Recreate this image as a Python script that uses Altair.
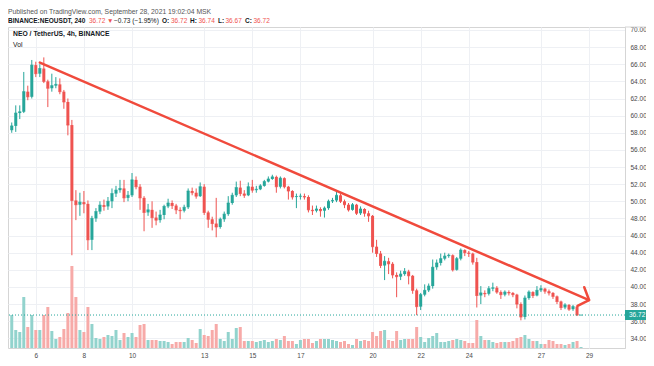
import altair as alt
import pandas as pd

# ---------------- data ----------------
start_day = 5.0            # first 4h candle: 5 Sep 2021 00:00
first_open = 58.3
close_prices = [
    58.8, 60.3, 60.45, 62.8, 62.2, 65.9, 64.9, 65.5, 64.0, 63.2, 63.5, 63.65,
    62.8, 61.6, 58.9, 50.1, 49.6, 49.9, 49.7, 45.5, 48.0, 48.8, 49.55, 49.4,
    50.0, 50.9, 51.3, 51.5, 50.4, 50.7, 52.5, 51.7, 50.4, 48.7, 49.0, 48.1,
    47.8, 48.4, 49.4, 49.8, 49.5, 49.0, 48.9, 49.3, 51.2, 51.0, 50.6, 51.7,
    48.7, 47.9, 47.4, 47.0, 47.9, 48.5, 49.8, 50.7, 51.6, 50.9, 50.7, 51.7,
    51.3, 51.4, 51.8, 52.3, 52.6, 52.85, 51.7, 52.7, 51.7, 51.2, 50.5, 50.55,
    50.6, 50.5, 49.0, 48.9, 49.1, 48.9, 49.2, 50.0, 50.1, 50.7, 50.0, 49.6,
    49.0, 49.6, 48.6, 49.1, 48.6, 48.3, 44.7, 43.9, 42.5, 43.0, 42.7, 41.4,
    41.2, 41.5, 41.8, 41.3, 39.6, 37.7, 39.1, 39.6, 40.1, 42.3, 42.8, 43.3,
    43.6, 43.7, 42.0, 43.3, 44.3, 44.0, 43.9, 42.9, 39.0, 39.3, 39.2, 39.8,
    39.9, 39.4, 39.1, 39.4, 39.3, 39.1, 38.0, 36.5, 38.7, 39.4, 39.0, 39.6,
    39.8, 39.5, 39.3, 38.9, 38.3, 37.6, 37.9, 37.4, 37.7, 36.72, 36.72,
]
high_prices = [
    59.2, 61.2, 61.2, 65.1, 63.5, 66.5, 66.3, 66.0, 66.8, 64.2, 64.9, 64.5,
    64.35, 63.0, 62.0, 59.5, 51.3, 51.0, 51.2, 50.1, 48.3, 49.2, 50.0, 50.2,
    50.5, 51.5, 51.8, 52.5, 52.5, 51.2, 53.3, 52.9, 52.0, 50.6, 49.7, 50.0,
    48.8, 49.0, 49.6, 50.3, 50.1, 49.7, 49.3, 49.6, 51.5, 51.6, 51.5, 52.2,
    52.0, 48.9, 48.2, 50.4, 48.1, 48.8, 50.6, 51.0, 52.3, 52.4, 51.3, 52.2,
    52.5, 51.8, 52.0, 52.5, 52.9, 53.1, 53.0, 52.9, 52.8, 51.8, 51.3, 50.9,
    50.9, 50.9, 50.7, 49.5, 49.5, 49.3, 49.4, 50.2, 50.4, 51.1, 50.9, 50.2,
    49.8, 49.8, 49.7, 49.4, 49.2, 48.9, 48.4, 45.5, 44.2, 43.6, 43.4, 42.9,
    41.7, 41.9, 42.2, 42.0, 41.4, 39.8, 39.3, 40.3, 40.4, 43.2, 43.2, 43.9,
    44.0, 43.9, 43.8, 43.5, 44.5, 44.4, 44.2, 44.0, 43.4, 40.1, 39.6, 40.1,
    40.5, 40.1, 39.6, 39.6, 39.6, 39.4, 39.2, 38.2, 39.0, 39.6, 39.5, 40.1,
    40.2, 39.9, 39.7, 39.4, 39.0, 38.4, 38.1, 38.0, 37.9, 37.8, 36.74,
]
low_prices = [
    58.0, 58.1, 59.6, 60.3, 61.8, 62.0, 64.5, 64.5, 63.8, 61.0, 62.8, 63.2,
    62.5, 60.8, 57.7, 43.7, 47.8, 48.3, 48.6, 44.3, 44.3, 47.6, 48.5, 48.9,
    49.0, 49.2, 50.5, 51.0, 49.9, 50.0, 50.5, 51.4, 49.0, 46.5, 48.3, 46.9,
    47.2, 47.5, 47.9, 49.2, 49.1, 48.5, 47.9, 48.7, 49.1, 50.7, 50.3, 50.5,
    48.4, 46.9, 46.6, 45.8, 46.8, 47.6, 48.3, 49.6, 50.5, 50.6, 50.4, 50.6,
    51.0, 51.0, 51.3, 51.7, 52.2, 52.5, 51.0, 51.5, 51.5, 50.2, 50.2, 49.2,
    50.2, 50.2, 48.7, 48.4, 48.7, 48.2, 48.1, 49.0, 49.8, 49.9, 49.8, 49.2,
    48.8, 48.9, 48.4, 48.4, 48.2, 47.6, 44.0, 43.5, 42.2, 40.8, 41.5, 41.0,
    38.8, 40.8, 41.3, 40.3, 39.2, 36.7, 37.3, 38.9, 39.4, 39.8, 42.0, 42.5,
    43.1, 43.4, 41.8, 41.9, 43.1, 43.6, 43.5, 42.6, 37.6, 38.0, 38.8, 39.0,
    39.5, 39.2, 38.6, 38.9, 39.0, 38.8, 37.5, 36.1, 36.2, 38.5, 38.7, 38.9,
    39.4, 39.2, 39.0, 38.6, 38.0, 37.3, 37.4, 37.2, 37.2, 36.6, 36.67,
]
volume = [
    33, 18, 16, 51, 21, 33, 18, 18, 33, 41, 17, 9,
    11, 19, 35, 82, 51, 18, 16, 41, 24, 10, 9, 11,
    13, 12, 18, 8, 15, 11, 15, 11, 23, 24, 8, 8,
    8, 7, 7, 6, 4, 6, 6, 6, 10, 8, 5, 19,
    13, 12, 18, 24, 9, 7, 16, 9, 20, 21, 7, 7,
    7, 6, 7, 8, 6, 7, 9, 8, 12, 7, 7, 4,
    8, 9, 9, 5, 7, 9, 9, 9, 8, 7, 6, 7,
    4, 3, 9, 7, 8, 7, 16, 12, 17, 18, 8, 7,
    17, 8, 9, 9, 9, 21, 11, 6, 10, 12, 15, 6,
    6, 7, 8, 9, 8, 7, 5, 5, 28, 12, 8, 8,
    6, 5, 6, 6, 6, 7, 10, 11, 13, 9, 7, 7,
    4, 4, 8, 7, 4, 4, 3, 4, 6, 7, 1,
]
date_ticks = [6, 8, 10, 13, 15, 17, 20, 22, 24, 27, 29]
price_ticks = list(range(34, 72, 2))
last_price = 36.72
trend_t = [6.17, 29.0]
trend_p = [66.2, 38.47]
arrow_t = [28.80, 29.0, 28.52]
arrow_p = [39.96, 38.47, 37.78]

header_line1 = "Published on TradingView.com, September 28, 2021 19:02:04 MSK"
header_parts = ["BINANCE:NEOUSDT, 240", "36.72", "\u25bc", "\u22120.73 (\u22121.95%)",
                "O:", "36.72", "H:", "36.74", "L:", "36.67", "C:", "36.72"]
pane_title = "NEO / TetherUS, 4h, BINANCE"
pane_sub = "Vol"

# ---------------- layout / style ----------------
W, H = 617, 321
FONT = "Liberation Sans"
UP, DOWN = "#26a69a", "#ef5350"
UP_V, DOWN_V = "#92d3cd", "#f7aaa8"
LINE_RED = "#f04a3c"
GRID = "#eef0f4"
TXT = "#4a4a4a"
DARK = "#131722"
X_DOMAIN = [5.052, 30.286]
P_DOMAIN = [32.87, 70.35]

n = len(close_prices)
opens = [first_open] + close_prices[:-1]
df = pd.DataFrame({
    "t": [start_day + i / 6 for i in range(n)],
    "open": opens,
    "close": close_prices,
    "high": [max(h, o, c) for h, o, c in zip(high_prices, opens, close_prices)],
    "low": [min(l, o, c) for l, o, c in zip(low_prices, opens, close_prices)],
    "vol": volume,
})
df["dir"] = ["up" if c >= o else "down" for o, c in zip(df["open"], df["close"])]
df["vdir"] = ["vup" if d == "up" else "vdown" for d in df["dir"]]

xs = alt.Scale(domain=X_DOMAIN, nice=False, zero=False)
xaxis = alt.Axis(values=date_ticks, format="d", grid=True, gridColor=GRID, ticks=False,
                 domain=False, labelFontSize=6.5, labelColor=TXT, labelFont=FONT,
                 labelPadding=4, title=None, labelFlush=False, labelOverlap=False)
X = alt.X("t:Q", scale=xs, axis=xaxis)
ps = alt.Scale(domain=P_DOMAIN, nice=False, zero=False)
yaxis = alt.Axis(orient="right", values=price_ticks, format=".2f", grid=True, gridColor=GRID,
                 ticks=False, domain=True, domainColor="#d5d5d5", labelFontSize=6.5,
                 labelColor=TXT, labelFont=FONT, labelPadding=5, title=None,
                 labelFlush=False, labelOverlap=False)

color_scale = alt.Scale(domain=["up", "down", "vup", "vdown"], range=[UP, DOWN, UP_V, DOWN_V])
cand_col = alt.Color("dir:N", scale=color_scale, legend=None)
vol_col = alt.Color("vdir:N", scale=color_scale, legend=None)

base = alt.Chart(df)
vol = base.mark_bar(size=3, clip=True).encode(
    x=X, y=alt.Y("vol:Q", scale=alt.Scale(domain=[0, H]), axis=None, stack=None),
    color=vol_col)

wick = base.mark_rule(strokeWidth=1, clip=True).encode(
    x=X, y=alt.Y("low:Q", scale=ps, axis=yaxis), y2="high:Q", color=cand_col)
body = base.mark_bar(size=3, clip=True).encode(
    x=X, y=alt.Y("open:Q", scale=ps, axis=yaxis), y2="close:Q", color=cand_col)
doji = base.mark_tick(thickness=1, size=3, orient="horizontal", clip=True).encode(
    x=X, y=alt.Y("close:Q", scale=ps, axis=yaxis), color=cand_col)

lp = pd.DataFrame({"p": [last_price], "s": [f"{last_price:.2f}"]})
price_line = alt.Chart(lp).mark_rule(strokeDash=[1, 2], color=UP, strokeWidth=1).encode(
    y=alt.Y("p:Q", scale=ps, axis=yaxis))
price_box = alt.Chart(lp).mark_rect(color=UP, yOffset=-5, y2Offset=5).encode(
    x=alt.value(W), x2=alt.value(W + 21),
    y=alt.Y("p:Q", scale=ps, axis=yaxis), y2="p:Q")
price_txt = alt.Chart(lp).mark_text(color="white", fontSize=6.5, font=FONT, align="left",
                                    baseline="middle", dx=4).encode(
    x=alt.value(W), y=alt.Y("p:Q", scale=ps, axis=yaxis), text="s:N")

tl = pd.DataFrame({"t": trend_t + arrow_t, "p": trend_p + arrow_p,
                   "seg": ["line"] * 2 + ["head"] * 3, "o": [0, 1, 0, 1, 2]})
trend = alt.Chart(tl).mark_line(color=LINE_RED, strokeWidth=2.5, strokeCap="round",
                                strokeJoin="round", clip=True).encode(
    x=X, y=alt.Y("p:Q", scale=ps, axis=yaxis), detail="seg:N", order="o:Q")

price_layer = alt.layer(wick, body, doji, price_line, trend, price_box, price_txt)

# header texts
t1 = alt.Chart(pd.DataFrame({"s": [header_line1]})).mark_text(
    align="left", baseline="middle", fontSize=6.8, font=FONT, color="#555555").encode(
    x=alt.value(0), y=alt.value(-15.5), text="s:N")
hx = [0, 81, 99, 106, 154, 163, 182, 190.5, 210, 217.5, 237, 245.5]
hcol = [DARK, DOWN, DOWN, DARK, DARK, DOWN, DARK, DOWN, DARK, DOWN, DARK, DOWN]
hbold = [True, False, False, False, True, False, True, False, True, False, True, False]
hdf = pd.DataFrame({"s": header_parts, "px": hx, "c": hcol, "b": hbold})
t2b = alt.Chart(hdf[hdf["b"]]).mark_text(align="left", baseline="middle", fontSize=6.5,
                                         font=FONT, fontWeight="bold").encode(
    x=alt.X("px:Q", scale=None), y=alt.value(-6), text="s:N", color=alt.Color("c:N", scale=None))
t2r = alt.Chart(hdf[~hdf["b"]]).mark_text(align="left", baseline="middle", fontSize=6.5,
                                          font=FONT).encode(
    x=alt.X("px:Q", scale=None), y=alt.value(-6), text="s:N", color=alt.Color("c:N", scale=None))
pt = alt.Chart(pd.DataFrame({"s": [pane_title]})).mark_text(
    align="left", baseline="middle", fontSize=6.8, font=FONT, fontWeight="bold", color=DARK).encode(
    x=alt.value(5), y=alt.value(6.5), text="s:N")
pv = alt.Chart(pd.DataFrame({"s": [pane_sub]})).mark_text(
    align="left", baseline="middle", fontSize=6.8, font=FONT, color=DARK).encode(
    x=alt.value(5), y=alt.value(17.5), text="s:N")
top_rule = alt.Chart(pd.DataFrame({"a": [0]})).mark_rule(color="#d5d5d5").encode(
    x=alt.value(W), x2=alt.value(W + 21), y=alt.value(0))

chart = alt.layer(vol, price_layer, t1, t2b, t2r, pt, pv, top_rule).resolve_scale(
    y="independent"
).properties(
    width=W, height=H,
    autosize=alt.AutoSizeParams(type="none"),
    padding={"left": 0, "top": 19, "right": 21, "bottom": 10},
    background="white",
).configure_view(stroke="#d5d5d5", strokeWidth=1)

chart.save("out.html", embed_options={"renderer": "svg", "actions": False})
